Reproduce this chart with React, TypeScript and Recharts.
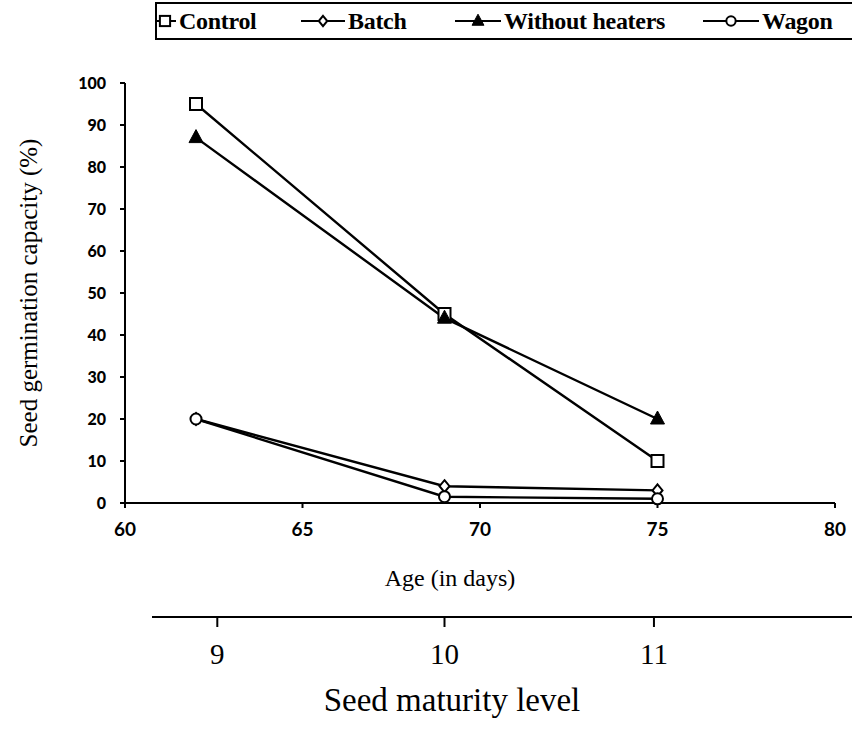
import React from "react";
import { LineChart, Line, XAxis, YAxis, Customized } from "recharts";

// values
const ages = [62, 69, 75];
const control = [95, 45, 10];
const batch = [20, 4, 3];
const withoutHeaters = [87, 44, 20];
const wagon = [20, 1.5, 1];

const ageTicks = [60, 65, 70, 75, 80];
const germTicks = [0, 10, 20, 30, 40, 50, 60, 70, 80, 90, 100];

// second scale: maturity level, placed at these ages
const maturityLevels = [9, 10, 11];
const maturityAges = [62.6, 69, 74.9];

const data = ages.map((age, i) => ({
  age,
  control: control[i],
  batch: batch[i],
  withoutHeaters: withoutHeaters[i],
  wagon: wagon[i],
}));

const SERIF = "'Liberation Serif', 'Times New Roman', serif";
const SANS = "Lato, 'DejaVu Sans', sans-serif";

type DotProps = { cx?: number; cy?: number; s?: number };

const Square = ({ cx = 0, cy = 0, s = 1 }: DotProps) => (
  <rect x={cx - 6 * s} y={cy - 6 * s} width={12 * s} height={12 * s} fill="#fff" stroke="#000" strokeWidth={2} />
);
const Diamond = ({ cx = 0, cy = 0, s = 1 }: DotProps) => (
  <polygon
    points={`${cx},${cy - 6 * s} ${cx + 5 * s},${cy} ${cx},${cy + 6 * s} ${cx - 5 * s},${cy}`}
    fill="#fff"
    stroke="#000"
    strokeWidth={2}
  />
);
const Triangle = ({ cx = 0, cy = 0, s = 1 }: DotProps) => (
  <polygon
    points={`${cx},${cy - 8 * s} ${cx + 7 * s},${cy + 5 * s} ${cx - 7 * s},${cy + 5 * s}`}
    fill="#000"
    stroke="#000"
    strokeWidth={1}
  />
);
const Circle = ({ cx = 0, cy = 0, s = 1 }: DotProps) => (
  <circle cx={cx} cy={cy} r={5.5 * s} fill="#fff" stroke="#000" strokeWidth={2} />
);

const series = [
  { key: "control", name: "Control", Dot: Square },
  { key: "batch", name: "Batch", Dot: Diamond },
  { key: "withoutHeaters", name: "Without heaters", Dot: Triangle },
  { key: "wagon", name: "Wagon", Dot: Circle },
];

// legend layout: where each label starts, and how long its line sample is
const legendTextX = [179, 348, 504, 762];
const legendSampleW = [22, 44, 46, 56];

function LegendBox() {
  return (
    <div
      style={{
        position: "absolute",
        left: 155,
        top: 2,
        width: 720,
        height: 34,
        border: "2px solid #000",
        borderRight: "none",
        overflow: "hidden",
      }}
    >
      {series.map((s, i) => {
        const Dot = s.Dot;
        const w = legendSampleW[i];
        return (
          <div
            key={s.key}
            style={{
              position: "absolute",
              left: legendTextX[i] - 155 - 2 - w - 3,
              top: 0,
              height: 34,
              display: "flex",
              alignItems: "center",
              whiteSpace: "nowrap",
            }}
          >
            <svg width={w} height={20} style={{ overflow: "visible" }}>
              <line x1={0} y1={10} x2={w} y2={10} stroke="#000" strokeWidth={2} />
              <Dot cx={w / 2} cy={10} s={0.85} />
            </svg>
            <span
              style={{
                fontFamily: SERIF,
                fontWeight: "bold",
                fontSize: 24,
                letterSpacing: -0.3,
                marginLeft: 3,
              }}
            >
              {s.name}
            </span>
          </div>
        );
      })}
    </div>
  );
}

const MaturityLine = () => (
  <line x1={152} y1={617} x2={852} y2={617} stroke="#000" strokeWidth={2} />
);

export default function App() {
  return (
    <div
      style={{
        position: "absolute",
        left: 0,
        top: 0,
        width: 852,
        height: 729,
        overflow: "hidden",
        background: "#fff",
      }}
    >
      <LineChart
        width={852}
        height={729}
        data={data}
        margin={{ top: 83, right: 17, left: 0, bottom: 0 }}
      >
        <XAxis
          dataKey="age"
          type="number"
          domain={[60, 80]}
          ticks={ageTicks}
          height={114}
          stroke="#000"
          axisLine={{ stroke: "#000", strokeWidth: 2 }}
          tickLine={{ stroke: "#000", strokeWidth: 2 }}
          tickSize={5}
          tickMargin={15}
          tick={{ fill: "#000", fontFamily: SANS, fontWeight: 700, fontSize: 19 }}
          label={{
            content: ({ viewBox }: any) => (
              <text
                x={viewBox.x + viewBox.width / 2 - 30}
                y={viewBox.y + 83}
                textAnchor="middle"
                fontFamily={SERIF}
                fontSize={24}
                style={{ fill: "#000" }}
              >
                Age (in days)
              </text>
            ),
          }}
        />
        <XAxis
          xAxisId="maturity"
          dataKey="age"
          type="number"
          domain={[60, 80]}
          ticks={maturityAges}
          tickFormatter={(v) => String(maturityLevels[maturityAges.indexOf(Number(v))])}
          height={112}
          axisLine={false}
          tickLine={{ stroke: "#000", strokeWidth: 2 }}
          tickSize={10}
          tickMargin={16}
          tick={{ fill: "#000", fontFamily: SERIF, fontSize: 29 }}
          label={{
            content: ({ viewBox }: any) => (
              <text
                x={viewBox.x + viewBox.width / 2 - 28}
                y={viewBox.y + 94}
                textAnchor="middle"
                fontFamily={SERIF}
                fontSize={33}
                style={{ fill: "#000" }}
              >
                Seed maturity level
              </text>
            ),
          }}
        />
        <YAxis
          type="number"
          domain={[0, 100]}
          ticks={germTicks}
          width={125}
          axisLine={{ stroke: "#000", strokeWidth: 2 }}
          tickLine={{ stroke: "#000", strokeWidth: 2 }}
          tickSize={5}
          tickMargin={14}
          tick={{ fill: "#000", fontFamily: SANS, fontWeight: 900, fontSize: 16 }}
          label={{
            content: ({ viewBox }: any) => (
              <text
                x={28}
                y={viewBox.y + viewBox.height / 2}
                transform={`rotate(-90, 28, ${viewBox.y + viewBox.height / 2})`}
                textAnchor="middle"
                dominantBaseline="central"
                fontFamily={SERIF}
                fontSize={25}
                style={{ fill: "#000" }}
              >
                Seed germination capacity (%)
              </text>
            ),
          }}
        />
        {series.map((s) => {
          const Dot = s.Dot;
          return (
            <Line
              key={s.key}
              dataKey={s.key}
              name={s.name}
              type="linear"
              stroke="#000"
              strokeWidth={2.4}
              isAnimationActive={false}
              dot={(p: any) => <Dot key={`${s.key}-${p.index}`} cx={p.cx} cy={p.cy} />}
            />
          );
        })}
        <Customized component={<MaturityLine />} />
      </LineChart>
      <LegendBox />
    </div>
  );
}
